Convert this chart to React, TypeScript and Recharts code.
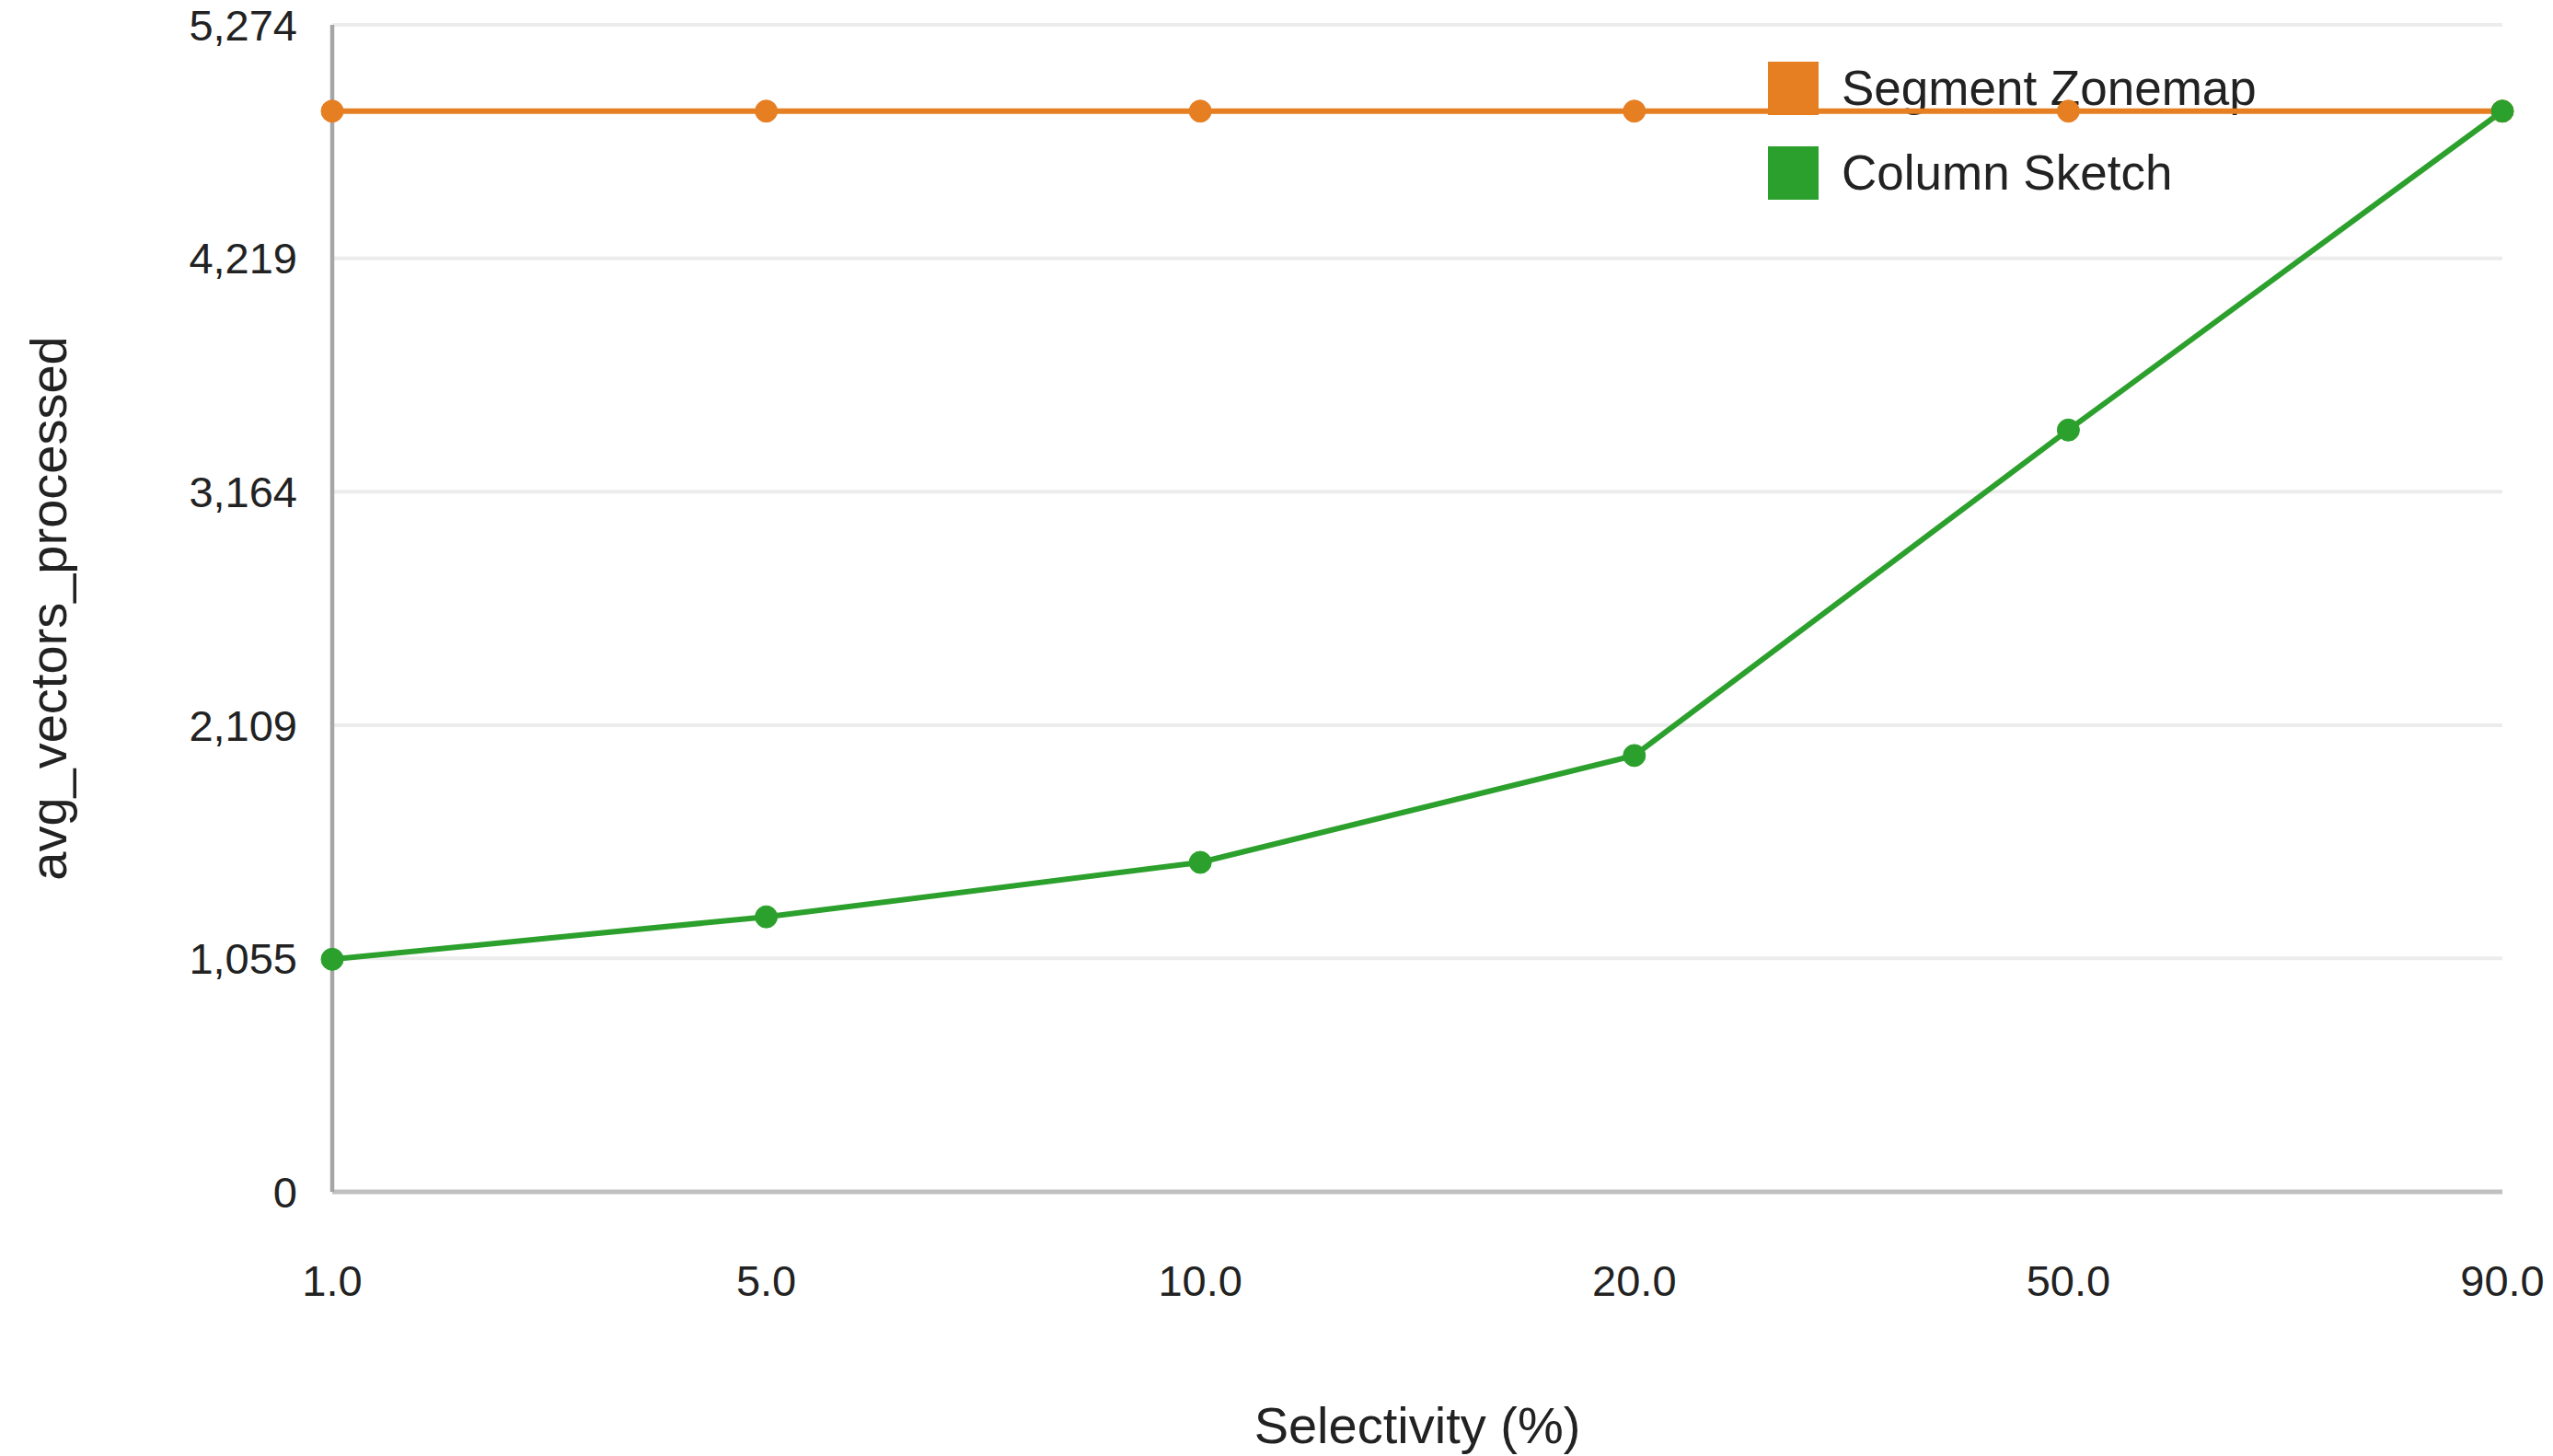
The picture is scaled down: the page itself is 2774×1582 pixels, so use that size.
import { CartesianGrid, Legend, Line, LineChart, XAxis, YAxis } from 'recharts'

const selectivity = ['1.0', '5.0', '10.0', '20.0', '50.0', '90.0']
const segmentZonemap = [4884, 4884, 4884, 4884, 4884, 4884]
const columnSketch = [1051, 1243, 1489, 1972, 3443, 4884]
const yTicks = [0, 1055, 2109, 3164, 4219, 5274]
const seriesOrder = ['Segment Zonemap', 'Column Sketch']

const ORANGE = '#e67e22'
const GREEN = '#2ca02c'
const FONT = '"Liberation Sans", Arial, Helvetica, sans-serif'

const chartData = selectivity.map((s, i) => ({
  sel: s,
  zonemap: segmentZonemap[i],
  sketch: columnSketch[i],
}))

function LegendBox(props: { payload?: Array<{ value: string; color: string }> }) {
  // recharts sorts legend items by name, put them back in series order
  const items = [...(props.payload ?? [])].sort(
    (a, b) => seriesOrder.indexOf(a.value) - seriesOrder.indexOf(b.value),
  )
  return (
    <div style={{ fontFamily: FONT }}>
      {items.map((it, i) => (
        <div key={i} style={{ display: 'flex', alignItems: 'center', height: 92 }}>
          <div style={{ width: 55, height: 58, background: it.color, marginRight: 25 }} />
          <span style={{ fontSize: 53, color: '#222', lineHeight: '58px' }}>{it.value}</span>
        </div>
      ))}
    </div>
  )
}

export default function App() {
  return (
    <div style={{ position: 'absolute', left: 0, top: 0 }}>
      <LineChart
        width={2774}
        height={1582}
        data={chartData}
        margin={{ top: 27, right: 55, bottom: 0, left: 0 }}
        style={{ fontFamily: FONT }}
      >
        <CartesianGrid vertical={false} stroke="#ececec" strokeWidth={4} />
        <XAxis
          dataKey="sel"
          height={287}
          axisLine={{ stroke: '#c0c0c0', strokeWidth: 5 }}
          tickLine={false}
          tickSize={0}
          tickMargin={80}
          tick={{ fill: '#222', fontSize: 47 }}
          interval={0}
          label={{ value: 'Selectivity (%)', position: 'insideBottom', offset: 14, fill: '#222', fontSize: 56 }}
        />
        <YAxis
          width={361}
          domain={[0, 5274]}
          ticks={yTicks}
          axisLine={{ stroke: '#a6a6a6', strokeWidth: 4.5 }}
          tickLine={false}
          tickSize={0}
          tickMargin={38}
          tick={{ fill: '#222', fontSize: 47 }}
          tickFormatter={(v: number) => v.toLocaleString('en-US')}
          label={{
            value: 'avg_vectors_processed',
            angle: -90,
            position: 'insideLeft',
            offset: 52,
            fill: '#222',
            fontSize: 56,
            style: { textAnchor: 'middle' },
          }}
        />
        {/* vertical + center + middle keeps the legend out of the plot offset */}
        <Legend
          layout="vertical"
          verticalAlign="middle"
          align="center"
          content={<LegendBox />}
          wrapperStyle={{ left: 1921, top: 50, width: 600, zIndex: -1 }}
        />
        <Line
          type="linear"
          dataKey="zonemap"
          name="Segment Zonemap"
          stroke={ORANGE}
          strokeWidth={6}
          dot={{ r: 12, fill: ORANGE, stroke: ORANGE, strokeWidth: 1 }}
          activeDot={false}
          isAnimationActive={false}
        />
        <Line
          type="linear"
          dataKey="sketch"
          name="Column Sketch"
          stroke={GREEN}
          strokeWidth={6}
          dot={{ r: 12, fill: GREEN, stroke: GREEN, strokeWidth: 1 }}
          activeDot={false}
          isAnimationActive={false}
        />
      </LineChart>
    </div>
  )
}
